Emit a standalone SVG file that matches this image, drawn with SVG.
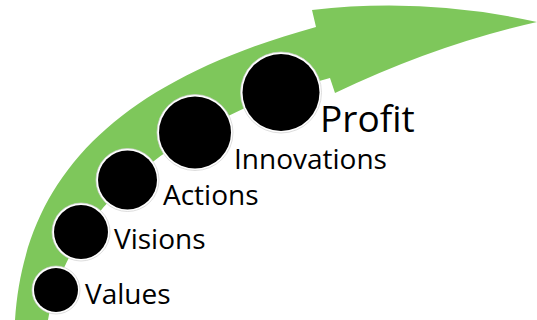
<svg xmlns="http://www.w3.org/2000/svg" width="537" height="320" viewBox="0 0 537 320">
  <style>
    .ring { fill: #ffffff; stroke: #cfcfcf; stroke-width: 0.7; }
    .dot { fill: #000000; }
    .lbl { font-family: "Open Sans", "DejaVu Sans", sans-serif; font-size: 28px; fill: #000000; }
    .big { font-size: 37px; }
  </style>
  <rect width="537" height="320" fill="#ffffff"/>
  <g id="connectors">
    <path id="arrow" fill="#7EC75B" d="M 15,320 C 24,185 105,85 316,27 L 312,10 Q 425,-3 537,22 Q 436.5,44.5 335,93 L 330,78 C 210,110 70,190 48,320 Z"/>
  </g>
  <g id="values">
    <circle class="ring" cx="56" cy="290" r="24"/>
    <circle class="dot" cx="56" cy="290" r="22"/>
    <text class="lbl" x="85" y="304">Values</text>
  </g>
  <g id="visions">
    <circle class="ring" cx="81" cy="232" r="29"/>
    <circle class="dot" cx="81" cy="232" r="27"/>
    <text class="lbl" x="114" y="248.5">Visions</text>
  </g>
  <g id="actions">
    <circle class="ring" cx="127.5" cy="180" r="31.5"/>
    <circle class="dot" cx="127.5" cy="180" r="29.5"/>
    <text class="lbl" x="163" y="205">Actions</text>
  </g>
  <g id="innovations">
    <circle class="ring" cx="195" cy="132.5" r="38"/>
    <circle class="dot" cx="195" cy="132.5" r="36"/>
    <text class="lbl" x="234" y="169">Innovations</text>
  </g>
  <g id="profit">
    <circle class="ring" cx="281" cy="92.5" r="40.5"/>
    <circle class="dot" cx="281" cy="92.5" r="38.5"/>
    <text class="lbl big" x="320" y="132">Profit</text>
  </g>
</svg>
